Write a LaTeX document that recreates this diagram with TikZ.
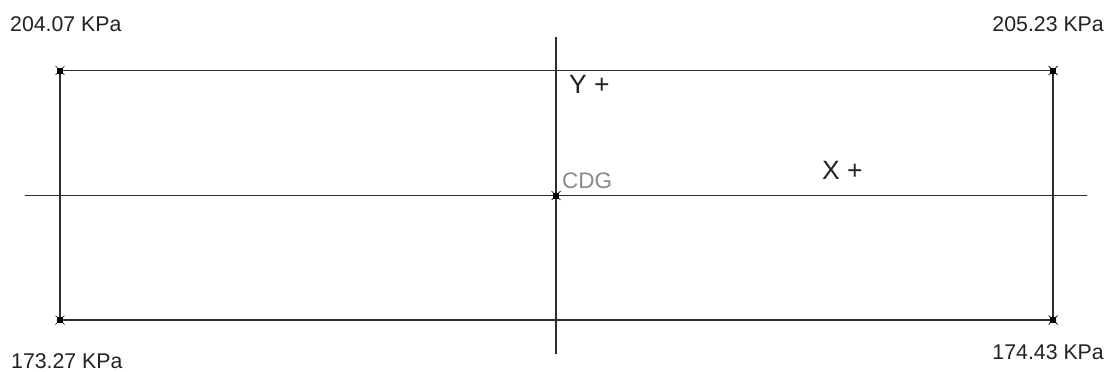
\documentclass[tikz,border=0pt]{standalone}
\usepackage{fontspec}
\setmainfont{Liberation Sans}
\definecolor{linec}{HTML}{2E2E2E}
\definecolor{textc}{HTML}{222222}
\definecolor{cdgc}{HTML}{8A8A8A}
\tikzset{
  axis/.style={draw=linec, line width=1.1pt},
  frame/.style={draw=linec, line width=1.1pt},
  plabel/.style={inner sep=0pt, text=textc, font=\fontsize{21.3}{24}\selectfont},
  dirlabel/.style={inner sep=0pt, text=textc, font=\fontsize{26.5}{30}\selectfont},
  cdglabel/.style={inner sep=0pt, text=cdgc, font=\fontsize{22.5}{26}\selectfont},
}
\newcommand{\mymark}[1]{%
  \fill[black] ($(#1)+(-3pt,-3pt)$) rectangle ($(#1)+(3pt,3pt)$);
  \draw[black, line width=0.7pt] ($(#1)+(-4.5pt,-4.5pt)$) -- ($(#1)+(4.5pt,4.5pt)$)
        ($(#1)+(-4.5pt,4.5pt)$) -- ($(#1)+(4.5pt,-4.5pt)$);
}
\usetikzlibrary{calc}
\begin{document}
\begin{tikzpicture}[x=1pt,y=-1pt]
\useasboundingbox (0,0) rectangle (1112,372);
\fill[white] (0,0) rectangle (1112,372);
% corners
\coordinate (tl) at (60,70.5);
\coordinate (tr) at (1053,70.5);
\coordinate (bl) at (60,320);
\coordinate (br) at (1053,320);
\coordinate (cdg) at (556,195.5);
\coordinate (xl) at (25,195.5);
\coordinate (xr) at (1087,195.5);
\coordinate (yt) at (556,37);
\coordinate (yb) at (556,354);
% frame
\draw[frame] (tl) -- (tr) -- (br) -- (bl) -- cycle;
% axes
\draw[axis] (xl) -- (xr);
\draw[axis] (yt) -- (yb);
% markers
\mymark{tl}
\mymark{tr}
\mymark{bl}
\mymark{br}
\mymark{cdg}
% labels
\node[plabel, anchor=base west] (ltl) at (10,31.7) {204.07 KPa};
\node[plabel, anchor=base east] (ltr) at (1104,31.7) {205.23 KPa};
\node[plabel, anchor=base west] (lbl) at (11,368) {173.27 KPa};
\node[plabel, anchor=base east] (lbr) at (1104,359) {174.43 KPa};
\node[dirlabel, anchor=base west] (yp) at (569,93) {Y +};
\node[dirlabel, anchor=base west] (xp) at (822,179) {X +};
\node[cdglabel, anchor=base west] (cdgl) at (562,188.3) {CDG};
\end{tikzpicture}
\end{document}
